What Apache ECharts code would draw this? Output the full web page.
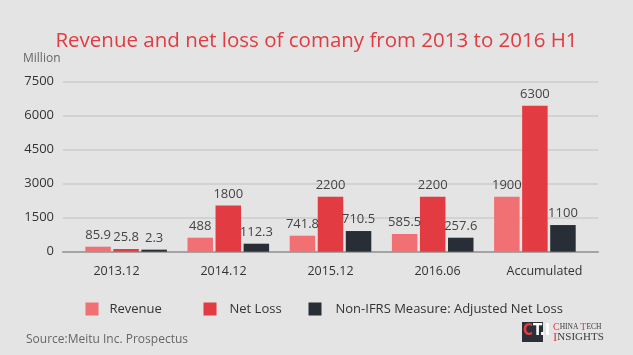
<!DOCTYPE html>
<html>
<head>
<meta charset="utf-8">
<script src="https://cdn.jsdelivr.net/npm/echarts@6/dist/echarts.min.js"></script>
<style>
html,body{margin:0;padding:0;background:#e4e4e4;}
#c{width:633px;height:355px;}
</style>
</head>
<body>
<div id="c"></div>
<script>
var categories = ["2013.12", "2014.12", "2015.12", "2016.06", "Accumulated"];
var yTicks = [0, 1500, 3000, 4500, 6000, 7500];
// bar heights as drawn in the picture
var revenue = [220, 617, 706, 780, 2426];
var netLoss = [120, 2043, 2426, 2426, 6441];
var adjustedNetLoss = [90, 353, 912, 617, 1176];
// printed labels above the bars
var revenueLabels = ["85.9", "488", "741.8", "585.5", "1900"];
var netLossLabels = ["25.8", "1800", "2200", "2200", "6300"];
var adjustedLabels = ["2.3", "112.3", "710.5", "257.6", "1100"];
var seriesNames = ["Revenue", "Net Loss", "Non-IFRS Measure: Adjusted Net Loss"];

var FONT = "Open Sans";
var colors = ["#f07074", "#e23b41", "#272e36"];

function lab(arr) {
  return {
    show: true, position: "top", distance: 5,
    color: "#444", fontSize: 13, fontFamily: FONT,
    formatter: function (p) { return arr[p.dataIndex]; }
  };
}

var chart = echarts.init(document.getElementById("c"));
var option = {
  backgroundColor: "#e4e4e4",
  animation: false,
  title: [
    { text: "Revenue and net loss of comany from 2013 to 2016 H1", left: "center", top: 26,
      textStyle: { color: "#e23b41", fontSize: 20.5, fontWeight: "normal", fontFamily: FONT } },
    { text: "Million", left: 18, top: 48,
      textStyle: { color: "#666", fontSize: 12, fontWeight: "normal", fontFamily: FONT } },
    { text: "Source:Meitu Inc. Prospectus", left: 21, top: 329,
      textStyle: { color: "#666", fontSize: 12, fontWeight: "normal", fontFamily: FONT } }
  ],
  grid: [
    { left: 63, right: 35, top: 81.7, bottom: 103.3 },
    { left: 75, right: 47, top: 81.7, bottom: 103.3 }
  ],
  xAxis: [
    { type: "category", gridIndex: 0, data: categories,
      axisLine: { lineStyle: { color: "#a3a3a3", width: 2 } },
      axisTick: { show: false },
      axisLabel: { color: "#333", fontSize: 12.5, fontFamily: FONT, margin: 13 } },
    { type: "category", gridIndex: 1, data: categories, show: false }
  ],
  yAxis: [
    { type: "value", gridIndex: 0, min: yTicks[0], max: yTicks[yTicks.length - 1], interval: 1500,
      axisLine: { show: false }, axisTick: { show: false },
      splitLine: { lineStyle: { color: "#d2d2d2", width: 2 } },
      axisLabel: { color: "#333", fontSize: 13, fontFamily: FONT, margin: 9,
        formatter: function (v) { return String(v); } } },
    { type: "value", gridIndex: 1, min: yTicks[0], max: yTicks[yTicks.length - 1], interval: 1500, show: false,
      splitLine: { show: false } }
  ],
  legend: [
    { data: [seriesNames[0]], left: 80.5, top: 297.5, itemWidth: 13, itemHeight: 13, icon: "rect",
      textStyle: { color: "#333", fontSize: 13, fontFamily: FONT, padding: [0, 0, 0, 6] } },
    { data: [seriesNames[1]], left: 198.5, top: 297.5, itemWidth: 13, itemHeight: 13, icon: "rect",
      textStyle: { color: "#333", fontSize: 13, fontFamily: FONT, padding: [0, 0, 0, 8] } },
    { data: [seriesNames[2]], left: 303.5, top: 297.5, itemWidth: 13, itemHeight: 13, icon: "rect",
      textStyle: { color: "#333", fontSize: 13, fontFamily: FONT, padding: [0, 0, 0, 9] } }
  ],
  series: [
    { name: seriesNames[0], type: "bar", xAxisIndex: 1, yAxisIndex: 1, data: revenue,
      barWidth: 25.5, barGap: "10%", itemStyle: { color: colors[0] }, label: lab(revenueLabels) },
    { name: seriesNames[1], type: "bar", xAxisIndex: 1, yAxisIndex: 1, data: netLoss,
      barWidth: 25.5, barGap: "10%", itemStyle: { color: colors[1] }, label: lab(netLossLabels) },
    { name: seriesNames[2], type: "bar", xAxisIndex: 1, yAxisIndex: 1, data: adjustedNetLoss,
      barWidth: 25.5, barGap: "10%", itemStyle: { color: colors[2] }, label: lab(adjustedLabels) }
  ],
  graphic: [
    { type: "rect", left: 522, top: 322, shape: { width: 21, height: 20 }, style: { fill: "#2b3038" } },
    { type: "text", left: 523, top: 324, style: {
        rich: { r: { fill: "#e23b41", fontSize: 15, fontWeight: "bold", fontFamily: "DejaVu Sans Condensed" },
                w: { fill: "#fff", fontSize: 15, fontWeight: "bold", fontFamily: "DejaVu Sans Condensed" } },
        text: "{r|C}{w|T.I}" } },
    { type: "text", left: 553, top: 322, style: {
        rich: { R: { fill: "#e23b41", fontSize: 10, fontFamily: "Liberation Serif" },
                d: { fill: "#3a3a3a", fontSize: 7.5, fontFamily: "Liberation Serif" } },
        text: "{R|C}{d|HINA }{R|T}{d|ECH}" } },
    { type: "text", left: 553, top: 331, style: {
        rich: { R: { fill: "#e23b41", fontSize: 13, fontFamily: "Liberation Serif" },
                d: { fill: "#3a3a3a", fontSize: 11, fontFamily: "Liberation Serif" } },
        text: "{R|I}{d|NSIGHTS}" } }
  ]
};
chart.setOption(option);
</script>
</body>
</html>
